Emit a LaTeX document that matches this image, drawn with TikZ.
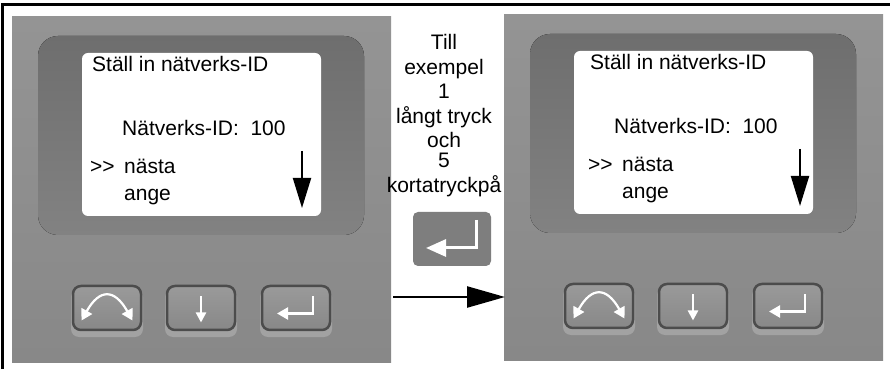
\documentclass[tikz,border=0pt]{standalone}
\usepackage{fontspec}
\setmainfont{Liberation Sans}
\usetikzlibrary{arrows.meta,positioning}

\definecolor{panel}{RGB}{148,148,148}
\definecolor{panellow}{RGB}{136,136,136}
\definecolor{bezel}{RGB}{110,110,110}
\definecolor{bezellow}{RGB}{130,130,130}
\definecolor{keyface}{RGB}{136,136,136}
\definecolor{keyedge}{RGB}{76,76,76}
\definecolor{keyglow}{RGB}{162,162,162}
\definecolor{pad}{RGB}{126,126,126}

\tikzset{
  lcd/.style={font=\fontsize{21}{25}\selectfont,anchor=base west,inner sep=0pt},
  screen/.style={rectangle,rounded corners=6pt,fill=white,
                 minimum width=239pt,minimum height=163pt},
  keybtn/.style={rectangle,rounded corners=8pt,draw=keyedge,line width=2.5pt,
                 top color=keyface!85!white,bottom color=keyface,
                 minimum width=68pt,minimum height=44pt},
  icon/.style={white,line width=2.2pt},
  scrarr/.style={-{Triangle[length=30pt,width=18pt]},line width=2pt},
  bigarr/.style={-{Triangle[length=38pt,width=21pt]},line width=2.5pt},
  hint/.style={font=\fontsize{21}{24.5}\selectfont,align=center,inner sep=0pt},
  enterkey/.style={rectangle,rounded corners=5pt,fill=pad,
                   minimum width=78pt,minimum height=54pt},
  % one handset: grey front, recessed window, display and three keys
  % (#1 = how far the menu text sits to the right)
  panel/.pic={
    \fill[top color=panel,bottom color=panellow] (0,0) rectangle (379,-345);
    \fill[top color=bezel,bottom color=bezellow,rounded corners=20pt]
      (26,-19) rectangle (352,-218);
    \node[screen] (-scr) at (189.5,-117.5) {};
    \node[lcd] (-title) at (80+#1,-55) {Ställ in nätverks-ID};
    \node[lcd] (-id) at (110,-119) {Nätverks-ID:\ \ 100};
    \node[lcd] (-mark) at (78+#1,-157) {>{}>};
    \node[lcd] (-next) at (112+#1,-157) {nästa};
    \node[lcd] (-set) at (112+#1,-184) {ange};
    \draw[scrarr] (290+#1,-134) -- (290+#1,-191);
    % light edge under the keys
    \fill[keyglow,rounded corners=8pt] (59,-320) rectangle (131,-272);
    \fill[keyglow,rounded corners=8pt] (153,-320) rectangle (225,-272);
    \fill[keyglow,rounded corners=8pt] (248,-320) rectangle (320,-272);
    \node[keybtn] (-rot) at (95,-291) {};
    \node[keybtn] (-down) at (189,-291) {};
    \node[keybtn] (-ok) at (284,-291) {};
    \draw[icon,{Triangle[length=11pt,width=12pt]}-{Triangle[length=11pt,width=12pt]}]
      (69.5,-303.5) .. controls (87.5,-271.5) and (102.5,-271.5) .. (120.5,-303.5);
    \draw[icon,-{Triangle[length=10pt,width=10pt]}] (189,-279.5) -- (189,-305.5);
    \draw[icon,-{Triangle[length=11pt,width=12pt]}] (301,-279.5) |- (265,-296.5);
    \coordinate (-exit) at (381,-280);
    \coordinate (-entry) at (1,-282);
  }
}

\begin{document}
\begin{tikzpicture}[x=1pt,y=1pt]
  \useasboundingbox (0,0) rectangle (890,369);
  \fill[white] (0,0) rectangle (890,369);

  % frame
  \draw[line width=3.5pt] (2.5,0) |- (890,364.5);

  \pic (L) at (12,352) {panel=0};
  \pic (R) at (504,354) {panel=6};

  % what to press in between
  \node[hint,anchor=north] (hint) at (444,334.5)
    {Till\\exempel\\1\\långt tryck\\och\\[-4.5pt]5\\kortatryckpå};
  \node[enterkey] (ent) at (452,130) {};
  \draw[icon,line width=3pt,-{Triangle[length=20pt,width=17pt]}]
    ([shift={(24,19)}]ent.center) |- ([shift={(-26,-9)}]ent.center);

  \draw[bigarr] (L-exit) -- (R-entry);
\end{tikzpicture}
\end{document}
